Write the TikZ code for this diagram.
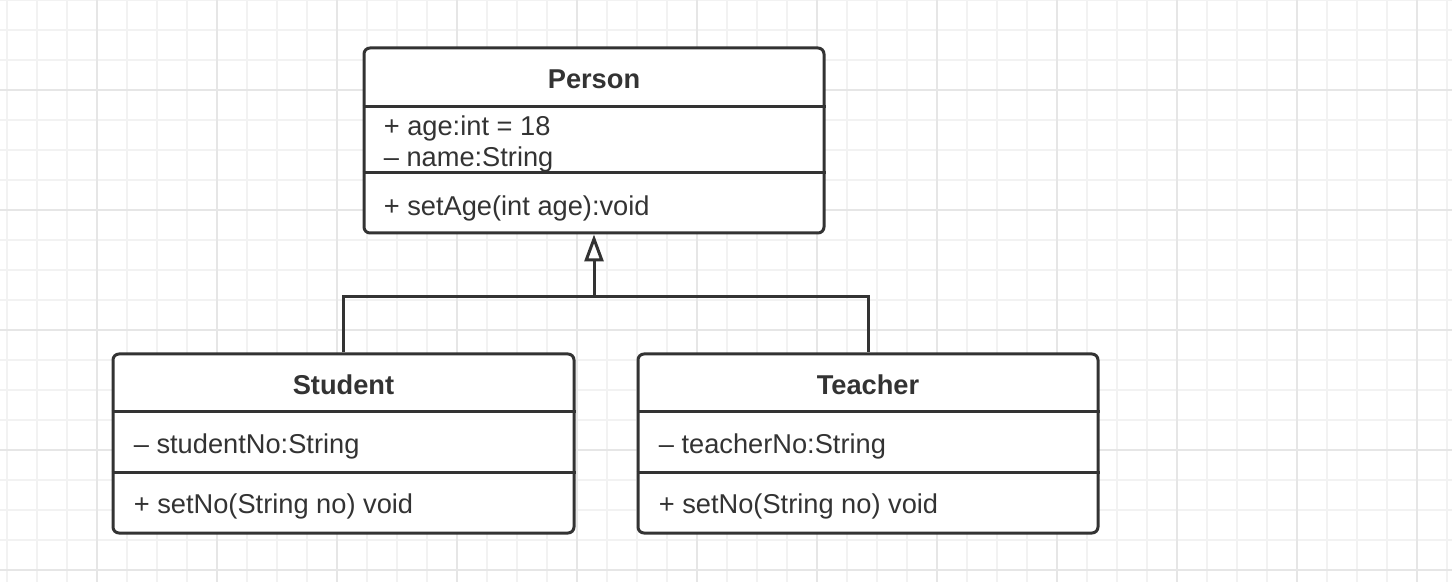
\documentclass[tikz,border=0pt]{standalone}
\usepackage{fontspec}
\setmainfont{Liberation Sans}
\usetikzlibrary{arrows.meta,calc}

\definecolor{umlgray}{HTML}{333333}
\definecolor{gridminor}{HTML}{F2F2F2}
\definecolor{gridmajor}{HTML}{E6E6E6}

\tikzset{
    classbox/.style={draw=umlgray, line width=0.06cm, rounded corners=0.12cm, fill=white, inner sep=0pt},
    classname/.style={font=\fontsize{15.5}{18}\selectfont\bfseries, text=umlgray, inner sep=0pt},
    member/.style={anchor=west, font=\fontsize{15.5}{18}\selectfont, text=umlgray, inner sep=0pt},
    divider/.style={draw=umlgray, line width=0.06cm},
    link/.style={draw=umlgray, line width=0.06cm},
}

\begin{document}
\begin{tikzpicture}
    \useasboundingbox (0,0) rectangle (29.04,-11.64);
    \fill[white] (0,0) rectangle (29.04,-11.64);

    % Grid
        %minor
        \foreach \i in {0,...,48}
            \draw[gridminor, line width=0.04cm] (0.14+0.6*\i,0) -- ++(0,-11.64);
        \foreach \j in {0,...,19}
            \draw[gridminor, line width=0.04cm] (0,-0.6*\j) -- ++(29.04,0);
        %major
        \foreach \i in {0,...,11}
            \draw[gridmajor, line width=0.04cm] (1.94+2.4*\i,0) -- ++(0,-11.64);
        \foreach \j in {0,...,4}
            \draw[gridmajor, line width=0.04cm] (0,-1.8-2.4*\j) -- ++(29.04,0);

    % Classes
    \node[classbox, minimum width=9.2cm, minimum height=3.7cm] (person) at (11.88,-2.81) {};
    \node[classbox, minimum width=9.22cm, minimum height=3.58cm] (student) at (6.87,-8.87) {};
    \node[classbox, minimum width=9.2cm, minimum height=3.58cm] (teacher) at (17.36,-8.87) {};

    % Person
    \draw[divider] ($(person.north west)+(0,-1.2)$) -- ($(person.north east)+(0,-1.2)$);
    \draw[divider] ($(person.north west)+(0,-2.52)$) -- ($(person.north east)+(0,-2.52)$);
    \node[classname] (personname) at ($(person.north)+(0,-0.65)$) {Person};
    \node[member] (personage) at ($(person.north west)+(0.42,-1.64)$) {+ age:int = 18};
    \node[member] (personnm) at ($(person.north west)+(0.42,-2.26)$) {– name:String};
    \node[member] (personset) at ($(person.north west)+(0.42,-3.23)$) {+ setAge(int age):void};

    % Student
    \draw[divider] ($(student.north west)+(0,-1.18)$) -- ($(student.north east)+(0,-1.18)$);
    \draw[divider] ($(student.north west)+(0,-2.4)$) -- ($(student.north east)+(0,-2.4)$);
    \node[classname] (studentname) at ($(student.north)+(0,-0.65)$) {Student};
    \node[member] (studentno) at ($(student.north west)+(0.44,-1.88)$) {– studentNo:String};
    \node[member] (studentset) at ($(student.north west)+(0.44,-3.08)$) {+ setNo(String no) void};

    % Teacher
    \draw[divider] ($(teacher.north west)+(0,-1.18)$) -- ($(teacher.north east)+(0,-1.18)$);
    \draw[divider] ($(teacher.north west)+(0,-2.4)$) -- ($(teacher.north east)+(0,-2.4)$);
    \node[classname] (teachername) at ($(teacher.north)+(0,-0.65)$) {Teacher};
    \node[member] (teacherno) at ($(teacher.north west)+(0.44,-1.88)$) {– teacherNo:String};
    \node[member] (teacherset) at ($(teacher.north west)+(0.44,-3.08)$) {+ setNo(String no) void};

    % Generalization
    \coordinate (join) at ($(person.south)+(0,-1.24)$);
    \draw[link] (student.north) |- (join) -| (teacher.north);
    \draw[link, -{Triangle[open, length=0.54cm, width=0.38cm, fill=white]}] (join) -- (person.south);
\end{tikzpicture}
\end{document}
